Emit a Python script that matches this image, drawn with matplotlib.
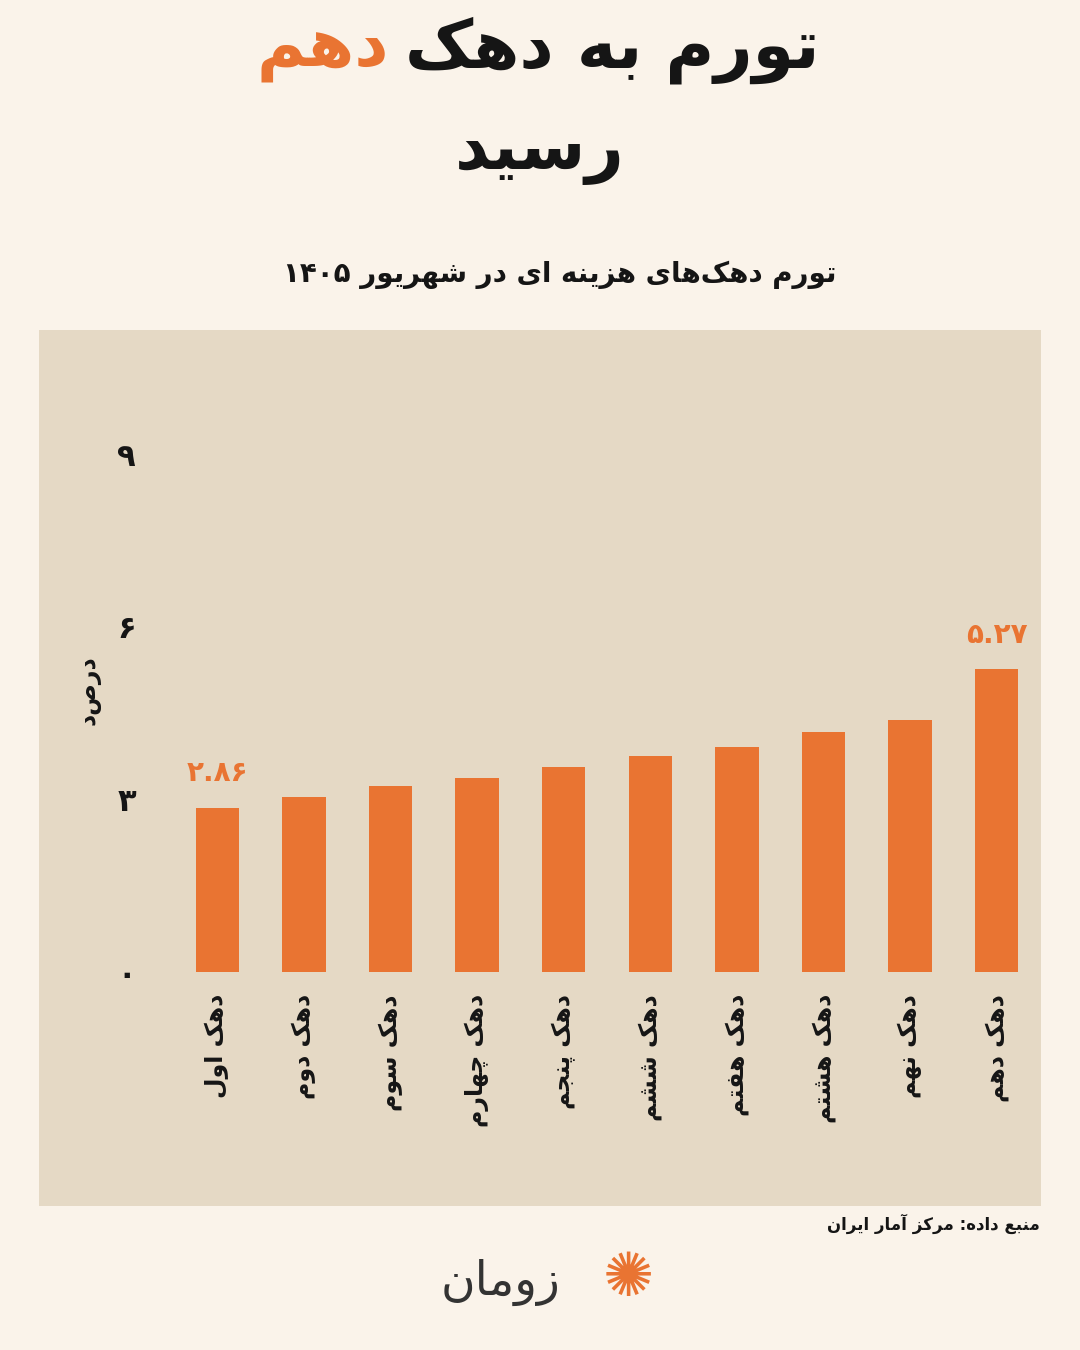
import matplotlib
matplotlib.use("Agg")
import matplotlib.pyplot as plt
from matplotlib.patches import Rectangle

# ---------- minimal Persian shaping ----------
FORMS = {  # isolated, final, initial, medial
 'ا':('\uFE8D','\uFE8E',None,None),'آ':('\uFE81','\uFE82',None,None),
 'ب':('\uFE8F','\uFE90','\uFE91','\uFE92'),'ت':('\uFE95','\uFE96','\uFE97','\uFE98'),
 'ج':('\uFE9D','\uFE9E','\uFE9F','\uFEA0'),'د':('\uFEA9','\uFEAA',None,None),
 'ر':('\uFEAD','\uFEAE',None,None),'ز':('\uFEAF','\uFEB0',None,None),
 'س':('\uFEB1','\uFEB2','\uFEB3','\uFEB4'),'ش':('\uFEB5','\uFEB6','\uFEB7','\uFEB8'),
 'ع':('\uFEC9','\uFECA','\uFECB','\uFECC'),'ف':('\uFED1','\uFED2','\uFED3','\uFED4'),
 'ل':('\uFEDD','\uFEDE','\uFEDF','\uFEE0'),'م':('\uFEE1','\uFEE2','\uFEE3','\uFEE4'),
 'ن':('\uFEE5','\uFEE6','\uFEE7','\uFEE8'),'ه':('\uFEE9','\uFEEA','\uFEEB','\uFEEC'),
 'و':('\uFEED','\uFEEE',None,None),'ی':('\uFBFC','\uFBFD','\uFBFE','\uFBFF'),
 'ک':('\uFB8E','\uFB8F','\uFB90','\uFB91'),'چ':('\uFB7A','\uFB7B','\uFB7C','\uFB7D'),
 'پ':('\uFB56','\uFB57','\uFB58','\uFB59'),
}
def fa(s):
    out = []
    n = len(s)
    for i, c in enumerate(s):
        if c not in FORMS:
            out.append(c if c != '\u200c' else ''); continue
        prev = s[i-1] if i > 0 else ''
        nxt = s[i+1] if i < n-1 else ''
        jp = prev in FORMS and FORMS[prev][2] is not None
        jn = nxt in FORMS and FORMS[c][2] is not None
        f = FORMS[c]
        if jp and jn: out.append(f[3])
        elif jp: out.append(f[1])
        elif jn: out.append(f[2])
        else: out.append(f[0])
    toks, cur = [], ''
    for ch in out:
        if ch and (ch in '۰۱۲۳۴۵۶۷۸۹0123456789.'):
            cur += ch
        else:
            if cur: toks.append(cur); cur = ''
            toks.append(ch)
    if cur: toks.append(cur)
    return ''.join(reversed(toks))

# ---------- data ----------
categories = ['دهک اول','دهک دوم','دهک سوم','دهک چهارم','دهک پنجم',
              'دهک ششم','دهک هفتم','دهک هشتم','دهک نهم','دهک دهم']
values = [2.86, 3.04, 3.23, 3.37, 3.57, 3.76, 3.91, 4.17, 4.38, 5.27]
yticks = [0, 3, 6, 9]
ytick_labels = ['۰', '۳', '۶', '۹']
first_label, last_label = '۲.۸۶', '۵.۲۷'

BG = '#FAF3EA'; PANEL = '#E5D9C5'; OR = '#E97432'; DK = '#151515'
FONT = ['DejaVu Sans']

W, H = 1080, 1350
fig = plt.figure(figsize=(W/100, H/100), dpi=100, facecolor=BG)
fig.add_artist(Rectangle((39/W, 1-1206/H), (1041-39)/W, (1206-330)/H,
                         transform=fig.transFigure, facecolor=PANEL,
                         edgecolor='none', zorder=-5))

ax = fig.add_axes([174/W, 1-972/H, (1040-174)/W, (972-397)/H])
ax.set_zorder(1)
ax.set_facecolor('none')
x = range(len(values))
ax.bar(x, values, width=0.5, color=OR)
ax.set_xlim(-0.5, 9.5); ax.set_ylim(0, 10)
for s in ax.spines.values(): s.set_visible(False)
ax.set_yticks(yticks)
ax.set_yticklabels(ytick_labels, fontsize=22, fontweight='bold', color=DK, family=FONT)
for lab in ax.get_yticklabels():
    lab.set_ha('center')
ax.tick_params(axis='y', length=0, pad=34)
ax.set_xticks(list(x))
ax.set_xticklabels([fa(c) for c in categories], rotation=90, fontsize=17,
                   fontweight='bold', color=DK, family=FONT, va='top', ha='center')
ax.tick_params(axis='x', length=0, pad=16)
ax.set_ylabel(fa('درصد'), fontsize=17, fontweight='bold', color=DK, family=FONT,
              rotation=90, va='center')
ax.yaxis.set_label_coords(-86/866, 0.49)
ax.text(0, values[0] + 0.35, first_label, ha='center', va='bottom', fontsize=20,
        fontweight='bold', color=OR, family=FONT)
ax.text(9, values[-1] + 0.35, last_label, ha='center', va='bottom', fontsize=20,
        fontweight='bold', color=OR, family=FONT)

# titles
fig.text(612/W, 1-50/H, fa('تورم به دهک'), fontsize=48, fontweight='bold',
         color=DK, ha='center', va='center', family=FONT)
fig.text(323/W, 1-50/H, fa('دهم'), fontsize=48, fontweight='bold', color=OR,
         ha='center', va='center', family=FONT)
fig.text(540/W, 1-152/H, fa('رسید'), fontsize=48, fontweight='bold', color=DK,
         ha='center', va='center', family=FONT)
fig.text(560/W, 1-275/H, fa('تورم دهک‌های هزینه ای در شهریور ۱۴۰۵'), fontsize=20,
         fontweight='bold', color=DK, ha='center', va='center', family=FONT)
fig.text(1040/W, 1-1224/H, fa('منبع داده: مرکز آمار ایران'), fontsize=12,
         fontweight='bold', color=DK, ha='right', va='center', family=FONT)
fig.text(500/W, 1-1282/H, fa('زومان'), fontsize=34, color='#333333',
         ha='center', va='center', family=FONT)
fig.text(628/W, 1-1280/H, '✺', fontsize=44, color=OR, ha='center', va='center',
         family=FONT)

fig.savefig('out.png', dpi=100, facecolor=BG)
